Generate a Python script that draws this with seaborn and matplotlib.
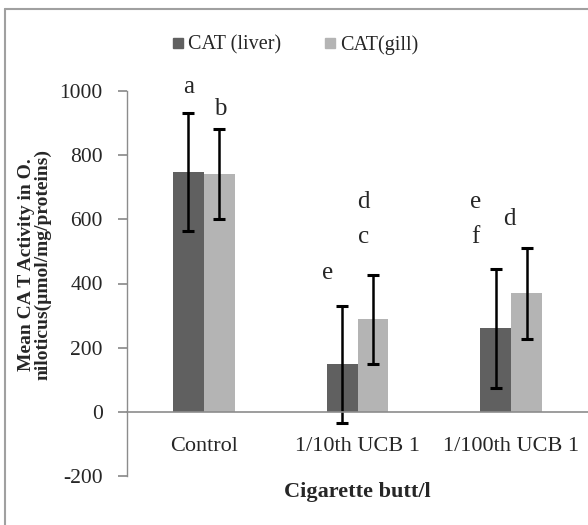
import numpy as np
import pandas as pd
import matplotlib
matplotlib.use('Agg')
import matplotlib.pyplot as plt
from matplotlib.lines import Line2D
import seaborn as sns

# data
groups = ['Control', '1/10th UCB 1', '1/100th UCB 1']
liver_mean = [748, 148, 260]
liver_err = [183, 183, 185]
gill_mean = [741, 288, 370]
gill_err = [140, 140, 142]

# significance letters: text, group index, bar (0 liver / 1 gill), baseline value
letter_text = ['a', 'b', 'e', 'd', 'c', 'e', 'f', 'd']
letter_group = [0, 0, 1, 1, 1, 2, 2, 2]
letter_bar = [0, 1, 0, 1, 1, 0, 0, 1]
letter_y = [994, 925, 414, 636, 526, 636, 526, 583]
letter_dx = [0.0, 0.01, -0.095, -0.06, -0.06, -0.13, -0.13, -0.11]

sns.set_theme(style='white')
plt.rcParams['font.family'] = ['Liberation Serif', 'DejaVu Serif']
plt.rcParams['axes.unicode_minus'] = False

df = pd.DataFrame({
    'group': groups * 2,
    'tissue': ['CAT (liver)'] * 3 + ['CAT(gill)'] * 3,
    'value': liver_mean + gill_mean,
})

fig = plt.figure(figsize=(5.88, 5.25), dpi=100)
ax = fig.add_axes([127 / 588, 1 - 476 / 525, 1 - 127 / 588, (476 - 91) / 525])

sns.barplot(data=df, x='group', y='value', hue='tissue', order=groups,
            palette=['#606060', '#b4b4b4'], width=0.4, errorbar=None,
            saturation=1, linewidth=0, ax=ax, legend=False)

x = np.arange(len(groups))
ax.errorbar(x - 0.1, liver_mean, yerr=liver_err, fmt='none', ecolor='black',
            elinewidth=1.8, capsize=4, capthick=2.2)
ax.errorbar(x + 0.1, gill_mean, yerr=gill_err, fmt='none', ecolor='black',
            elinewidth=1.8, capsize=4, capthick=2.2)

for t, g, b, y, dx in zip(letter_text, letter_group, letter_bar, letter_y, letter_dx):
    bx = g - 0.1 + 0.2 * b
    ax.text(bx + dx, y, t, ha='center', va='baseline', fontsize=18, clip_on=False)

ax.set_ylim(-200, 1000)
ax.set_xlim(-0.5, 2.5)
ax.set_yticks(np.arange(-200, 1001, 200))
ax.spines['top'].set_visible(False)
ax.spines['right'].set_visible(False)
ax.spines['bottom'].set_position(('data', 0))
ax.spines['bottom'].set_color('#8c8c8c')
ax.spines['left'].set_color('#8c8c8c')
ax.spines['bottom'].set_linewidth(1.2)
ax.spines['left'].set_linewidth(1.0)
ax.tick_params(axis='y', left=True, length=6.5, color='#8c8c8c', labelsize=15.5, pad=11)
ax.tick_params(axis='x', bottom=False, length=0, labelsize=16, pad=18)

ax.set_ylabel('Mean CA T Activity in O.\nniloticus(\u00b5mol/mg/proteins)',
              fontsize=14, fontweight='bold', linespacing=1.0)
ax.yaxis.set_label_coords(-0.163, 0.55)
ax.set_xlabel('Cigarette butt/l', fontsize=16, fontweight='bold')
ax.xaxis.set_label_coords(0.5, -0.016)

handles = [Line2D([], [], marker='s', linestyle='none', markersize=7.5, color=c)
           for c in ['#606060', '#b4b4b4']]
fig.legend(handles, ['CAT (liver)', 'CAT(gill)'], loc='center left',
           bbox_to_anchor=(154 / 588, 1 - 45 / 525), ncol=2, frameon=False,
           fontsize=14.5, handlelength=0.6, handletextpad=0.2, columnspacing=2.1)

# outer chart frame
fig.add_artist(Line2D([5 / 588, 5 / 588], [0, 1 - 9 / 525], color='#a0a0a0', lw=1.5))
fig.add_artist(Line2D([5 / 588, 1], [1 - 9 / 525, 1 - 9 / 525], color='#a0a0a0', lw=1.5))

fig.savefig('out.png', dpi=100)
